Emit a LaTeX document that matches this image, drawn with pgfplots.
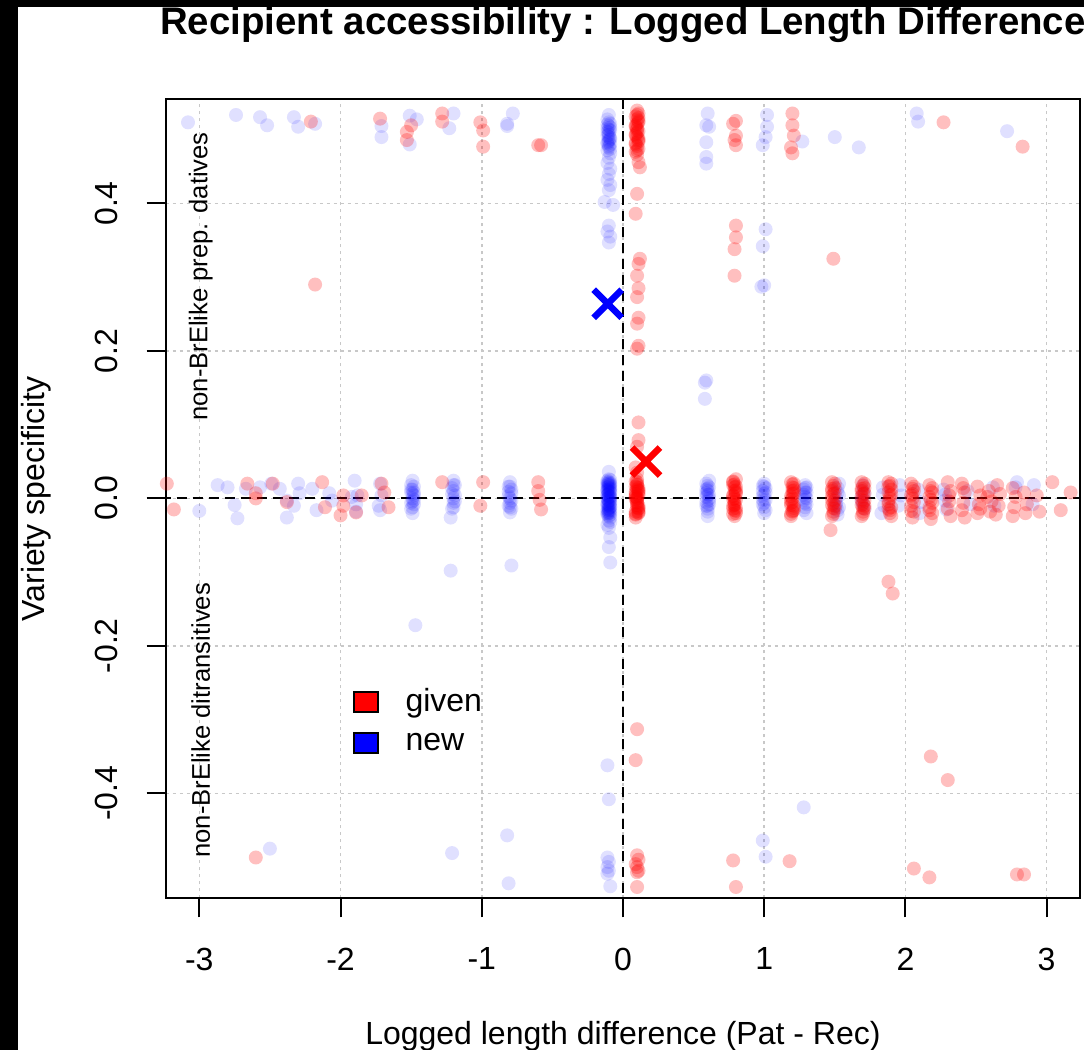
\documentclass[border=0pt]{standalone}
\usepackage{pgfplots}
\pgfplotsset{compat=1.18}
\usepackage{fontspec}
\setmainfont{Liberation Sans}
\setsansfont{Liberation Sans}
\definecolor{gridgray}{RGB}{200,200,200}
\newcommand{\basefont}{\fontsize{16}{19.2}\selectfont}
\pgfplotsset{
  newpt/.style={blue, only marks, mark=*, mark size=3.5pt, mark options={fill=blue, fill opacity=0.12, draw opacity=0, line width=0pt}, forget plot},
  givpt/.style={red, only marks, mark=*, mark size=3.5pt, mark options={fill=red, fill opacity=0.25, draw opacity=0, line width=0pt}, forget plot},
}
\begin{document}
\begin{tikzpicture}
\useasboundingbox (-82.85pt,-75.75pt) rectangle (459.15pt,449.25pt);
\begin{axis}[
  width=457.2pt, height=399.5pt, scale only axis,
  xmin=-3.238, xmax=3.237, ymin=-0.5426, ymax=0.541,
  xtick={-3,-2,-1,0,1,2,3}, xticklabels={-3,-2,-1,0,1,2,3},
  ytick={-0.4,-0.2,0,0.2,0.4}, yticklabels={-0.4,-0.2,0.0,0.2,0.4},
  tick align=outside, xtick pos=bottom, ytick pos=left,
  major tick length=9.5pt,
  every tick/.style={black, line width=1pt},
  axis line style={line width=1pt},
  grid=major,
  major grid style={draw=gridgray, dash pattern=on 1.5pt off 2pt, line width=0.8pt},
  tick label style={font=\basefont},
  xticklabel style={anchor=north, inner sep=15pt},
  yticklabel style={rotate=90, anchor=south, inner sep=14pt},
  legend style={draw=none, fill=none, at={(axis cs:-1.915,-0.252)}, anchor=north west, font=\basefont, inner sep=0pt, row sep=5pt, /tikz/every odd column/.append style={column sep=11.5pt}},
  legend cell align=left,
  legend image code/.code={\draw[#1, line width=0.8pt] (0pt,-5pt) rectangle (12pt,5pt);},
]
% ---------- new (blue) ----------
\addplot[newpt] coordinates {
(-0.10,0.020) (-0.09,0.012) (-0.11,0.004) (-0.10,-0.004) (-0.09,-0.012) (-0.11,-0.020) (-0.10,0.016) (-0.09,0.008) (-0.11,0.000) (-0.10,-0.008)
(-0.09,-0.016) (-0.11,0.022) (-0.10,0.010) (-0.09,0.002) (-0.11,-0.006) (-0.10,-0.014) (-0.09,-0.022) (-0.11,0.018) (-0.10,0.006) (-0.09,-0.002)
(-0.11,-0.010) (-0.10,-0.018) (-0.09,0.014) (-0.11,0.024) (-0.10,-0.024) (-0.10,0.026) (-0.09,-0.026) (-0.11,0.012) (-0.10,0.001) (-0.09,0.019)
(-0.10,0.018) (-0.11,0.009) (-0.09,0.000) (-0.10,-0.009) (-0.11,-0.018) (-0.09,0.021) (-0.10,0.013) (-0.11,0.005) (-0.09,-0.005) (-0.10,-0.013)
(-0.11,-0.022) (-0.09,0.017) (-0.10,0.007) (-0.11,-0.001) (-0.09,-0.011) (-0.10,-0.020) (-0.11,0.015) (-0.09,0.003) (-0.10,-0.003) (-0.11,-0.015)
(-0.09,0.009) (-0.10,0.022) (-0.11,-0.008) (-0.09,-0.019) (-0.10,0.003) (-0.11,0.011) (-0.09,-0.007) (-0.10,-0.016) (-0.11,0.020) (-0.09,0.025)
(-0.10,0.036) (-0.09,-0.032) (-0.10,-0.040) (-0.09,-0.053) (-0.10,-0.066) (-0.09,-0.087) (-0.11,-0.036) (-0.10,-0.030)
};
\addplot[newpt] coordinates {
(-0.10,0.520) (-0.11,0.514) (-0.09,0.508) (-0.10,0.505) (-0.11,0.502) (-0.09,0.499) (-0.10,0.496) (-0.11,0.492) (-0.09,0.489) (-0.10,0.486)
(-0.11,0.483) (-0.09,0.480) (-0.10,0.476) (-0.11,0.472) (-0.09,0.468) (-0.10,0.462) (-0.11,0.455) (-0.09,0.447) (-0.10,0.440) (-0.11,0.432)
(-0.09,0.425) (-0.10,0.418) (-0.13,0.402) (-0.07,0.398) (-0.10,0.370) (-0.11,0.362) (-0.09,0.355) (-0.10,0.347) (-0.10,0.500) (-0.10,0.490)
(-0.10,0.510) (-0.09,0.503) (-0.11,0.497) (-0.10,0.493) (-0.09,0.487) (-0.11,0.481) (-0.10,0.478) (-0.09,0.474) (-0.11,0.507) (-0.10,0.484)
(-0.11,-0.362) (-0.10,-0.408) (-0.11,-0.487) (-0.10,-0.493) (-0.11,-0.500) (-0.10,-0.505) (-0.11,-0.509) (-0.09,-0.526)
};
\addplot[newpt] coordinates {
(0.59,0.020) (0.60,0.010) (0.61,0.000) (0.59,-0.010) (0.60,-0.018) (0.61,0.015) (0.60,0.005) (0.59,-0.005) (0.60,-0.024) (0.61,0.024)
(0.60,0.013) (0.59,0.002) (0.61,-0.008) (0.60,-0.014) (0.60,0.017) (0.59,0.007) (0.61,-0.003) (0.60,-0.010) (0.59,0.012) (0.61,0.005)
(0.60,0.522) (0.59,0.506) (0.61,0.504) (0.59,0.483) (0.59,0.463) (0.59,0.454) (0.59,0.160) (0.58,0.157) (0.58,0.135)
(1.00,0.020) (0.99,0.010) (1.01,-0.002) (1.00,-0.012) (0.99,0.003) (1.01,0.014) (1.00,-0.020) (0.99,-0.008) (1.00,0.006) (1.01,-0.016)
(1.00,0.016) (0.99,-0.002) (1.01,0.008) (1.00,-0.006) (0.99,0.017)
(1.02,0.520) (1.02,0.504) (1.01,0.490) (0.99,0.479) (1.01,0.365) (0.99,0.342) (1.00,0.289) (0.98,0.287) (0.99,-0.464) (1.01,-0.486)
(1.29,0.018) (1.30,0.008) (1.28,-0.002) (1.29,-0.012) (1.30,-0.020) (1.28,0.012) (1.29,0.002) (1.30,-0.008) (1.29,0.014) (1.28,-0.016)
(1.29,0.008) (1.30,0.000) (1.28,0.005) (1.29,-0.006) (1.30,0.015)
(1.27,0.484) (1.28,-0.419)
(1.52,0.014) (1.53,0.004) (1.51,-0.006) (1.52,-0.016) (1.53,0.020) (1.51,-0.010) (1.52,-0.022) (1.52,0.008) (1.51,0.000) (1.53,-0.012) (1.50,0.490)
(1.70,0.010) (1.69,-0.004) (1.71,-0.014) (1.70,0.018) (1.69,0.002) (1.70,-0.008) (1.71,0.006) (1.67,0.476)
(1.84,0.005) (1.85,-0.010) (1.83,-0.020) (1.84,0.015) (1.96,0.018) (1.97,0.004) (1.95,-0.010)
(2.09,0.012) (2.11,-0.005) (2.10,-0.020) (2.08,0.522) (2.09,0.511)
(2.27,0.012) (2.28,-0.003) (2.29,-0.015) (2.28,0.005)
(2.44,0.010) (2.46,-0.008) (2.62,0.015) (2.63,-0.010) (2.78,0.015) (2.79,0.022) (2.91,0.018) (2.90,-0.008) (2.72,0.498)
};
\addplot[newpt] coordinates {
(-0.80,0.022) (-0.79,0.012) (-0.81,0.003) (-0.80,-0.006) (-0.79,-0.014) (-0.81,0.016) (-0.80,-0.019) (-0.79,0.007) (-0.80,0.000) (-0.81,-0.010)
(-0.80,0.016) (-0.79,-0.003) (-0.81,0.009) (-0.80,-0.012)
(-1.20,0.024) (-1.21,0.014) (-1.19,0.004) (-1.20,-0.006) (-1.21,-0.014) (-1.19,0.018) (-1.22,-0.026) (-1.20,0.000) (-1.20,0.010)
(-1.20,0.018) (-1.21,0.006) (-1.19,-0.004) (-1.20,-0.012)
(-1.49,0.024) (-1.48,0.016) (-1.50,0.008) (-1.49,0.000) (-1.48,-0.008) (-1.50,-0.014) (-1.49,-0.020) (-1.48,0.004) (-1.50,0.012) (-1.49,-0.004)
(-1.49,0.006) (-1.48,-0.002) (-1.50,0.018) (-1.49,-0.012) (-1.49,0.012) (-1.48,0.008) (-1.50,-0.006)
(-1.72,0.020) (-1.71,0.004) (-1.73,-0.010) (-1.72,-0.016)
(-1.90,0.024) (-1.92,0.002) (-1.89,-0.008) (-1.88,0.004) (-1.89,-0.018)
(-2.08,0.007) (-2.06,-0.003) (-2.20,0.013) (-2.17,-0.016)
(-2.43,0.013) (-2.38,-0.003) (-2.38,-0.026) (-2.33,-0.010) (-2.30,0.020) (-2.29,0.007)
(-2.49,0.020) (-2.57,0.015) (-2.67,0.013) (-2.87,0.018) (-2.80,0.015) (-2.75,-0.009) (-2.73,-0.027) (-3.00,-0.017)
(-1.22,-0.098) (-0.79,-0.091) (-1.47,-0.172) (-0.82,-0.457) (-2.50,-0.475) (-1.21,-0.481) (-0.81,-0.522)
(-3.25,0.495) (-3.08,0.510) (-2.74,0.520) (-2.57,0.517) (-2.52,0.506) (-2.33,0.517) (-2.30,0.504) (-2.18,0.508)
(-1.71,0.490) (-1.71,0.505) (-1.51,0.519) (-1.46,0.514) (-1.51,0.480) (-1.20,0.522) (-1.23,0.502) (-0.78,0.522) (-0.82,0.508) (-0.82,0.505)
};
% ---------- given (red) ----------
\addplot[givpt] coordinates {
(0.10,0.022) (0.11,0.014) (0.09,0.006) (0.10,-0.002) (0.11,-0.010) (0.09,-0.018) (0.10,0.018) (0.11,0.010) (0.09,0.002) (0.10,-0.006)
(0.11,-0.014) (0.09,-0.022) (0.10,0.026) (0.11,0.004) (0.09,-0.026) (0.10,0.012) (0.11,-0.020) (0.09,0.016) (0.10,-0.012) (0.10,0.000)
(0.10,0.019) (0.11,0.011) (0.09,0.003) (0.10,-0.005) (0.11,-0.013) (0.09,-0.021) (0.10,0.015) (0.11,0.007) (0.09,-0.001) (0.10,-0.009)
(0.11,-0.017) (0.09,0.023) (0.10,0.001) (0.11,-0.019) (0.09,0.009)
(0.10,0.035) (0.09,0.042) (0.10,0.070) (0.11,0.079) (0.11,0.103) (0.10,0.203) (0.11,0.207) (0.10,0.237) (0.11,0.245) (0.10,0.273)
(0.11,0.285) (0.10,0.302) (0.11,0.318) (0.12,0.325) (0.09,0.386) (0.10,0.413) (0.12,0.449) (0.11,0.456)
(0.10,0.526) (0.11,0.522) (0.09,0.518) (0.10,0.514) (0.11,0.510) (0.09,0.506) (0.10,0.502) (0.11,0.498) (0.09,0.494) (0.10,0.490)
(0.11,0.486) (0.09,0.482) (0.10,0.478) (0.11,0.474) (0.09,0.470) (0.10,0.466) (0.10,0.500) (0.11,0.484)
(0.10,0.520) (0.11,0.512) (0.09,0.504) (0.10,0.496) (0.11,0.488) (0.09,0.480) (0.10,0.472) (0.11,0.516) (0.09,0.492) (0.10,0.508)
(0.10,-0.313) (0.09,-0.355) (0.10,-0.484) (0.11,-0.490) (0.09,-0.496) (0.10,-0.500) (0.11,-0.505) (0.10,-0.507) (0.10,-0.527)
};
\addplot[givpt] coordinates {
(0.78,0.022) (0.80,0.016) (0.79,0.010) (0.78,0.004) (0.80,-0.002) (0.79,-0.008) (0.78,-0.014) (0.80,-0.020) (0.79,-0.024) (0.78,0.018)
(0.80,0.008) (0.79,0.000) (0.78,-0.010) (0.80,0.026) (0.79,-0.016)
(0.79,0.019) (0.80,0.011) (0.78,0.003) (0.79,-0.005) (0.80,-0.013) (0.78,-0.021) (0.79,0.015) (0.80,0.007) (0.78,-0.001) (0.79,-0.009) (0.80,-0.017) (0.78,0.023)
(0.78,0.508) (0.80,0.512) (0.79,0.486) (0.80,0.479) (0.80,0.492) (0.80,0.370) (0.80,0.354) (0.79,0.338) (0.79,0.302) (0.78,-0.491) (0.80,-0.527)
(1.19,0.022) (1.21,0.014) (1.20,0.006) (1.19,-0.002) (1.21,-0.010) (1.20,-0.018) (1.19,-0.024) (1.21,0.020) (1.20,0.010) (1.19,-0.006)
(1.21,-0.016) (1.20,0.000)
(1.20,0.019) (1.21,0.011) (1.19,0.003) (1.20,-0.005) (1.21,-0.013) (1.19,-0.021) (1.20,0.015) (1.21,0.007) (1.19,-0.009) (1.20,-0.017)
(1.20,0.522) (1.20,0.506) (1.21,0.492) (1.19,0.476) (1.20,0.468) (1.18,-0.492)
(1.48,0.022) (1.50,0.014) (1.49,0.006) (1.48,-0.002) (1.50,-0.010) (1.49,-0.018) (1.48,-0.024) (1.50,0.020) (1.49,-0.006) (1.48,0.010)
(1.50,-0.014) (1.49,0.017) (1.48,0.003) (1.50,-0.003) (1.49,-0.013) (1.48,0.013) (1.50,0.007) (1.49,-0.021) (1.48,-0.009)
(1.47,-0.043) (1.49,0.325)
(1.69,0.022) (1.71,0.014) (1.70,0.006) (1.69,-0.002) (1.71,-0.010) (1.70,-0.018) (1.69,-0.024) (1.71,0.020) (1.70,-0.006) (1.69,0.010) (1.71,-0.014)
(1.70,0.017) (1.69,0.003) (1.71,-0.003) (1.70,-0.013) (1.69,0.013) (1.71,0.007) (1.70,-0.021) (1.69,-0.009)
(1.88,0.022) (1.90,0.012) (1.89,0.004) (1.88,-0.004) (1.90,-0.012) (1.89,-0.020) (1.88,0.016) (1.90,-0.024) (1.89,0.000) (1.88,-0.014)
(1.89,0.017) (1.90,0.005) (1.88,-0.008) (1.89,-0.016) (1.90,0.020) (1.88,0.008)
(1.88,-0.113) (1.91,-0.129)
(2.04,0.020) (2.06,0.010) (2.05,0.000) (2.04,-0.010) (2.06,-0.018) (2.05,-0.026) (2.04,0.004) (2.06,0.016) (2.05,0.013) (2.06,-0.005) (2.04,-0.017) (2.05,0.006)
(2.06,-0.502)
(2.17,0.018) (2.19,0.008) (2.18,-0.002) (2.17,-0.012) (2.19,-0.020) (2.18,-0.028) (2.17,0.002) (2.19,0.014) (2.18,0.010) (2.19,-0.006) (2.17,-0.016)
(2.18,-0.350) (2.17,-0.514)
(2.30,0.022) (2.32,0.010) (2.31,-0.004) (2.30,-0.014) (2.32,-0.024) (2.31,0.004) (2.30,-0.382) (2.27,0.510)
(2.40,0.020) (2.42,0.008) (2.41,-0.006) (2.40,-0.016) (2.42,-0.026) (2.41,0.014)
(2.51,0.016) (2.53,0.004) (2.52,-0.008) (2.51,-0.020) (2.53,-0.014)
(2.59,0.010) (2.61,-0.004) (2.60,-0.018) (2.58,0.002)
(2.65,0.018) (2.67,0.006) (2.66,-0.010) (2.64,-0.022)
(2.76,0.014) (2.78,0.002) (2.77,-0.012) (2.76,-0.024) (2.79,-0.510) (2.84,-0.510)
(2.84,0.008) (2.86,-0.008) (2.85,-0.020) (2.83,0.477)
(2.93,0.004) (2.95,-0.018) (3.04,0.022) (3.10,-0.016) (3.17,0.008)
};
\addplot[givpt] coordinates {
(-0.60,0.022) (-0.60,0.010) (-0.59,-0.002) (-0.58,-0.015) (-0.99,0.022) (-1.01,-0.010) (-1.28,0.022)
(-1.71,0.020) (-1.69,0.008) (-1.66,-0.012) (-1.85,0.004) (-1.89,-0.019)
(-2.00,-0.023) (-1.98,0.004) (-1.98,-0.010) (-2.13,0.022) (-2.11,-0.012) (-2.38,-0.005) (-2.48,0.020)
(-2.60,0.007) (-2.60,0.000) (-2.66,0.020) (-3.23,0.020) (-3.18,-0.015)
(-2.21,0.511) (-1.72,0.515) (-1.50,0.506) (-1.53,0.497) (-1.53,0.486) (-1.28,0.522) (-1.28,0.511) (-1.01,0.510) (-0.99,0.499) (-0.99,0.477)
(-0.58,0.479) (-0.60,0.479) (-2.18,0.290) (-2.60,-0.487)
};
% reference lines
\addplot[forget plot, black, line width=1pt, dash pattern=on 5pt off 3pt] coordinates {(0,-0.6) (0,0.6)};
\addplot[forget plot, black, line width=1pt, dash pattern=on 5pt off 3pt] coordinates {(-3.5,0) (3.5,0)};
% means
\addplot[forget plot, only marks, mark=x, mark size=9.9pt, mark options={draw=blue, line width=3.3pt}] coordinates {(-0.108,0.264)};
\addplot[forget plot, only marks, mark=x, mark size=9.9pt, mark options={draw=red, line width=3.3pt}] coordinates {(0.163,0.050)};
% legend
\addlegendimage{fill=red, draw=black}
\addlegendentry{given}
\addlegendimage{fill=blue, draw=black}
\addlegendentry{new}
% inner labels
\node[rotate=90, font=\fontsize{12.8}{15}\selectfont] at (axis cs:-2.99,0.301) {non-BrElike prep. datives};
\node[rotate=90, font=\fontsize{12.8}{15}\selectfont] at (axis cs:-2.99,-0.301) {non-BrElike ditransitives};
\end{axis}
\node[anchor=base, font=\fontsize{19.2}{23}\selectfont\bfseries] at (228.6pt,431.75pt) {Recipient accessibility : Logged Length Difference};
\node[anchor=base, font=\basefont] at (228.6pt,-73.25pt) {Logged length difference (Pat - Rec)};
\node[rotate=90, font=\basefont] at (-64.85pt,199.75pt) {Variety specificity};
\fill[black] (-82.85pt,-75.75pt) rectangle (-73.85pt,449.25pt);
\fill[black] (-82.85pt,445.75pt) rectangle (459.15pt,449.25pt);
\end{tikzpicture}
\end{document}
